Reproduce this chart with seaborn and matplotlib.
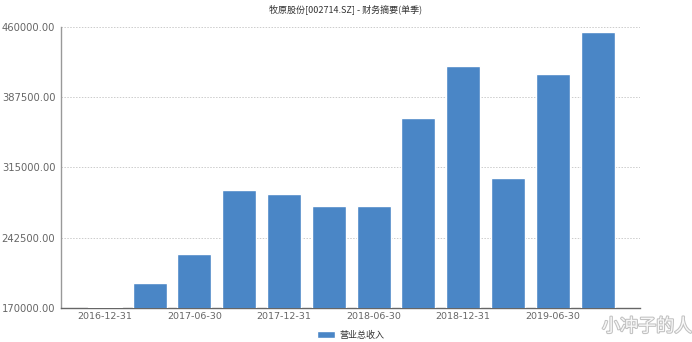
import matplotlib
matplotlib.use("Agg")
import matplotlib.pyplot as plt
import matplotlib.patheffects as pe
import seaborn as sns
import pandas as pd

periods = ["2016-12-31", "2017-03-31", "2017-06-30", "2017-09-30", "2017-12-31",
           "2018-03-31", "2018-06-30", "2018-09-30", "2018-12-31", "2019-03-31",
           "2019-06-30", "2019-09-30"]
revenue = [171000, 196000, 225900, 292200, 288000, 275400, 275400, 366300,
           420000, 304200, 411000, 454800]
yticks = [170000, 242500, 315000, 387500, 460000]
title = "牧原股份[002714.SZ] - 财务摘要(单季)"
series_name = "营业总收入"

sns.set_theme(style="white")
plt.rcParams['font.family'] = ['Noto Sans CJK SC', 'DejaVu Sans']

df = pd.DataFrame({"period": periods, "value": revenue})

fig = plt.figure(figsize=(6.92, 3.42), dpi=100)
ax = fig.add_axes([0.088, 0.0985, 0.837, 0.8235])
sns.barplot(data=df, x="period", y="value", color="#4a86c6", width=0.76,
            saturation=1, ax=ax, label=series_name, zorder=3)

ax.set_ylim(170000, 460000)
ax.set_xlim(-0.98, 11.95)
ax.set_yticks(yticks)
ax.set_yticklabels([f"{v:.2f}" for v in yticks], fontsize=7.2, color="#666666",
                   family="DejaVu Sans")
ax.set_xticks(range(0, len(periods), 2))
ax.set_xticklabels(periods[::2], fontsize=6.8, color="#666666", family="DejaVu Sans")
ax.tick_params(axis="y", length=3, width=0.8, color="#999999", pad=1)
ax.tick_params(axis="x", length=0, pad=3)
ax.set_xlabel("")
ax.set_ylabel("")
ax.yaxis.grid(True, linestyle=(0, (1.5, 1.5)), color="#cccccc", linewidth=0.7, zorder=0)
for s in ["top", "right"]:
    ax.spines[s].set_visible(False)
ax.spines["left"].set_color("#999999")
ax.spines["left"].set_linewidth(1.0)
ax.spines["bottom"].set_color("#666666")
ax.spines["bottom"].set_linewidth(1.0)

fig.text(0.5, 0.973, title, ha="center", va="center", fontsize=6.5, color="#333333")

leg = ax.legend(loc="upper center", bbox_to_anchor=(0.5, -0.05), frameon=False,
                fontsize=6.5, handlelength=2.0, handleheight=0.9, handletextpad=0.5)
for t in leg.get_texts():
    t.set_color("#333333")

fig.text(0.935, 0.045, "小冲子的人", ha="center", va="center", fontsize=13,
         color="white", alpha=0.9,
         path_effects=[pe.withStroke(linewidth=1.5, foreground="#bbbbbb")])

fig.savefig("out.png", dpi=100)
